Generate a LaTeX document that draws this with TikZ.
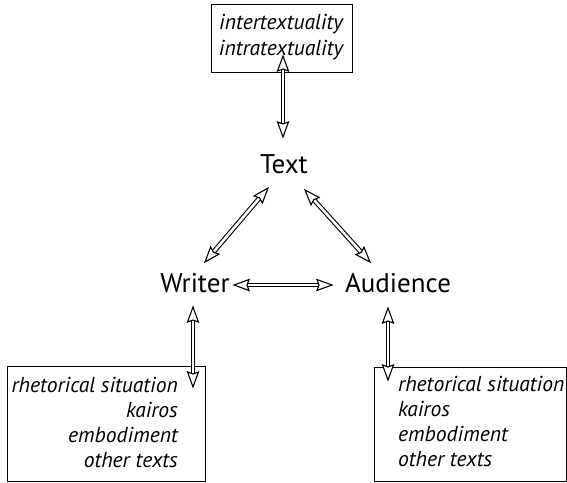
\documentclass[tikz,border=0pt]{standalone}
\usepackage{fontspec}
\setmainfont{PT Sans}
\usetikzlibrary{calc}
\newcommand\dblarrow[2]{%
  \draw[line width=1.1pt, double=white, double distance=2.6pt]
    ($(#1)!10pt!(#2)$) -- ($(#2)!10pt!(#1)$);
  \filldraw[head] (#1) -- ($(#1)!16pt!20:(#2)$) -- ($(#1)!13pt!(#2)$)
    -- ($(#1)!16pt!-20:(#2)$) -- cycle;
  \filldraw[head] (#2) -- ($(#2)!16pt!20:(#1)$) -- ($(#2)!13pt!(#1)$)
    -- ($(#2)!16pt!-20:(#1)$) -- cycle;
}
\begin{document}
\begin{tikzpicture}[x=1pt,y=-1pt,
  lbl/.style={font=\fontsize{27}{32}\selectfont, inner sep=0pt},
  itl/.style={font=\fontsize{21.6}{25.2}\selectfont\itshape, inner sep=0pt},
  frame/.style={draw, line width=0.8pt, inner sep=0pt},
  head/.style={fill=white, draw=black, line width=1.1pt, line join=miter}]
\useasboundingbox (0,0) rectangle (567,482);
% frames
\node[frame, minimum width=141pt, minimum height=68pt] (topbox) at (281.5,38) {};
\node[frame, minimum width=198pt, minimum height=115pt] (lbox) at (106,423.5) {};
\node[frame, minimum width=192pt, minimum height=114pt] (rbox) at (470,424) {};
% main labels
\node[lbl, anchor=base] (text) at (284,173) {Text};
\node[lbl, anchor=base] (writer) at (195,292) {Writer};
\node[lbl, anchor=base] (aud) at (398,292) {Audience};
% box texts
\node[itl, align=center] (top) at (281,37) {intertextuality\\intratextuality};
\node[itl, align=right, anchor=north east] (lt) at (178,376.5) {rhetorical situation\\kairos\\embodiment\\other texts};
\node[itl, align=left, anchor=north west] (rt) at (398,375.5) {rhetorical situation\\kairos\\embodiment\\other texts};
% connector end points
\coordinate (t1) at (283,56);
\coordinate (t2) at (283,137);
\coordinate (w1) at (193,307);
\coordinate (w2) at (193,387);
\coordinate (a1) at (388,308);
\coordinate (a2) at (388,380);
\coordinate (h1) at (234,285);
\coordinate (h2) at (332,285);
\coordinate (d1) at (268,188);
\coordinate (d2) at (205,262);
\coordinate (e1) at (305,190);
\coordinate (e2) at (370,262);
\dblarrow{t1}{t2}
\dblarrow{w1}{w2}
\dblarrow{a1}{a2}
\dblarrow{h1}{h2}
\dblarrow{d1}{d2}
\dblarrow{e1}{e2}
\end{tikzpicture}
\end{document}
